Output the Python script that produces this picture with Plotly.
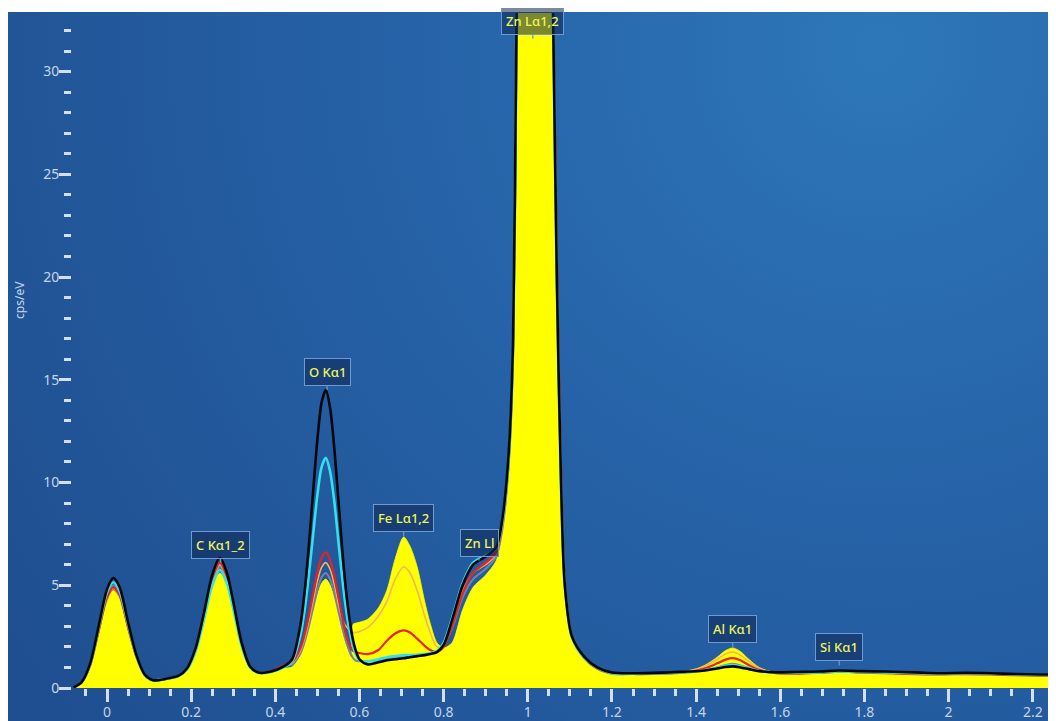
import base64
import plotly.graph_objects as go

# ---------------- data ----------------
energy_kev = [
    -0.08, -0.06, -0.04, -0.02, 0.0, 0.015, 0.03, 0.05, 0.07, 0.09, 0.11, 0.14, 0.17,
    0.19, 0.21, 0.23, 0.25, 0.268, 0.285, 0.30, 0.32, 0.34, 0.36, 0.39, 0.42,
    0.44, 0.46, 0.47, 0.48, 0.49, 0.50, 0.51, 0.52, 0.53, 0.54, 0.55, 0.56, 0.57, 0.58,
    0.585, 0.59, 0.60, 0.62, 0.645, 0.665, 0.685, 0.705, 0.72, 0.737, 0.755, 0.768, 0.784, 0.80,
    0.82, 0.845, 0.87, 0.90, 0.925, 0.94, 0.955, 0.965, 0.972, 0.98, 0.995, 1.015, 1.035, 1.05,
    1.062, 1.069, 1.079, 1.088, 1.105, 1.135, 1.165, 1.20,
    1.26, 1.32, 1.38, 1.42, 1.45, 1.47, 1.487, 1.505, 1.525, 1.55, 1.59, 1.64, 1.69, 1.74,
    1.79, 1.85, 1.92, 1.98, 2.04, 2.10, 2.16, 2.22, 2.26,
]

spec_yellow = [
    0.0, 0.22, 1.0, 2.6, 4.2, 4.75, 4.35, 2.85, 1.42, 0.58, 0.34, 0.42, 0.55,
    0.86, 1.68, 3.2, 4.85, 5.6, 4.95, 3.75, 1.98, 0.96, 0.7, 0.75, 0.95,
    1.03, 1.58, 2.12, 2.86, 3.7, 4.52, 5.1, 5.3, 5.02, 4.39, 3.54, 2.69, 1.99, 1.5,
    3.1, 3.15, 3.2, 3.35, 3.9, 4.75, 6.3, 7.35, 6.9, 5.9, 4.2, 3.15, 2.2, 1.95,
    2.2, 3.8, 4.9, 5.5, 6.2, 7.7, 10.8, 16, 28.5, 44, 64, 74, 67, 47,
    29, 19.2, 9.5, 4.7, 2.3, 1.35, 0.88, 0.65,
    0.64, 0.68, 0.8, 1.1, 1.5, 1.82, 1.95, 1.78, 1.4, 1.0, 0.72, 0.68, 0.7, 0.76,
    0.72, 0.7, 0.66, 0.64, 0.66, 0.64, 0.6, 0.58, 0.57,
]

spec_grey = [
    0.02, 0.28, 1.12, 2.8, 4.5, 5.0, 4.6, 3.0, 1.52, 0.63, 0.37, 0.44, 0.58,
    0.92, 1.78, 3.35, 5.1, 5.9, 5.2, 3.95, 2.1, 1.02, 0.74, 0.79, 1.05,
    1.14, 1.71, 2.28, 3.04, 3.92, 4.77, 5.39, 5.6, 5.3, 4.64, 3.75, 2.87, 2.14, 1.63,
    1.45, 1.35, 1.3, 1.3, 1.35, 1.42, 1.48, 1.52, 1.55, 1.58, 1.62, 1.68, 1.78, 2.1,
    2.9, 4.4, 5.3, 5.8, 6.4, 7.8, 11.0, 16.2, 28.5, 44, 64, 74, 67, 47,
    29.5, 19.5, 9.8, 4.9, 2.45, 1.45, 0.95, 0.7,
    0.68, 0.7, 0.76, 0.85, 1.0, 1.12, 1.18, 1.1, 0.98, 0.84, 0.74, 0.73, 0.75, 0.79,
    0.77, 0.74, 0.7, 0.68, 0.7, 0.68, 0.64, 0.62, 0.62,
]

spec_orange = [
    0.02, 0.27, 1.08, 2.72, 4.35, 4.85, 4.45, 2.92, 1.48, 0.62, 0.37, 0.44, 0.58,
    0.92, 1.8, 3.4, 5.2, 6.0, 5.3, 4.0, 2.12, 1.03, 0.75, 0.8, 1.07,
    1.2, 1.84, 2.45, 3.3, 4.27, 5.2, 5.87, 6.1, 5.78, 5.05, 4.08, 3.3, 2.95, 2.75,
    2.7, 2.7, 2.75, 2.95, 3.5, 4.2, 5.3, 5.9, 5.6, 4.75, 3.5, 2.7, 2.0, 2.05,
    3.2, 4.7, 5.6, 6.0, 6.5, 7.9, 11.0, 16.3, 29, 44, 64, 74, 67, 47,
    29.5, 19.5, 9.8, 4.9, 2.45, 1.45, 0.96, 0.72,
    0.68, 0.72, 0.82, 1.05, 1.4, 1.65, 1.75, 1.6, 1.3, 0.95, 0.75, 0.72, 0.76, 0.8,
    0.78, 0.75, 0.7, 0.68, 0.72, 0.7, 0.66, 0.64, 0.63,
]

spec_red = [
    0.02, 0.27, 1.1, 2.75, 4.4, 4.9, 4.5, 2.95, 1.5, 0.62, 0.37, 0.44, 0.58,
    0.93, 1.82, 3.45, 5.3, 6.1, 5.4, 4.05, 2.15, 1.05, 0.76, 0.82, 1.1,
    1.26, 1.95, 2.63, 3.54, 4.6, 5.62, 6.35, 6.6, 6.25, 5.45, 4.4, 3.34, 2.46, 1.95,
    1.8, 1.75, 1.7, 1.65, 1.85, 2.3, 2.65, 2.8, 2.7, 2.4, 2.05, 1.85, 1.75, 2.0,
    3.0, 4.6, 5.6, 6.1, 6.6, 8.0, 11.2, 16.5, 29, 44, 64, 74, 67.5, 48,
    31, 21, 10.8, 5.2, 2.5, 1.45, 0.95, 0.72,
    0.68, 0.7, 0.78, 0.95, 1.2, 1.38, 1.45, 1.35, 1.12, 0.88, 0.72, 0.7, 0.74, 0.8,
    0.76, 0.72, 0.68, 0.66, 0.68, 0.66, 0.62, 0.6, 0.6,
]

spec_cyan = [
    0.02, 0.28, 1.15, 2.9, 4.65, 5.15, 4.7, 3.1, 1.55, 0.63, 0.37, 0.44, 0.58,
    0.9, 1.75, 3.3, 5.0, 5.75, 5.1, 3.85, 2.05, 1.0, 0.73, 0.78, 1.0,
    1.3, 2.6, 3.85, 5.55, 7.5, 9.4, 10.75, 11.2, 10.55, 9.1, 7.1, 5.15, 3.55, 2.4,
    2.0, 1.7, 1.35, 1.3, 1.4, 1.5, 1.55, 1.6, 1.6, 1.62, 1.65, 1.7, 1.8, 2.2,
    3.4, 5.1, 6.1, 6.45, 6.8, 8.1, 11.3, 16.5, 29, 44, 64, 74, 67, 47,
    29.5, 19.5, 9.8, 4.9, 2.45, 1.45, 0.98, 0.72,
    0.7, 0.72, 0.78, 0.86, 0.98, 1.08, 1.12, 1.06, 0.96, 0.83, 0.74, 0.74, 0.76, 0.8,
    0.78, 0.76, 0.72, 0.7, 0.72, 0.7, 0.66, 0.64, 0.63,
]

spec_black = [
    0.02, 0.3, 1.2, 3.0, 4.8, 5.35, 4.9, 3.2, 1.6, 0.65, 0.38, 0.45, 0.6,
    0.95, 1.9, 3.6, 5.5, 6.35, 5.6, 4.2, 2.2, 1.05, 0.75, 0.8, 1.05,
    1.4, 3.1, 4.75, 7.0, 9.6, 12.1, 13.9, 14.5, 13.65, 11.7, 9.1, 6.5, 4.35, 2.85,
    2.3, 1.9, 1.4, 1.15, 1.25, 1.35, 1.4, 1.45, 1.5, 1.55, 1.6, 1.65, 1.75, 2.1,
    3.3, 5.0, 6.0, 6.4, 6.85, 8.3, 11.6, 17, 30, 45, 65, 75, 68, 48,
    30, 20, 10, 5, 2.5, 1.5, 1.0, 0.75,
    0.72, 0.75, 0.8, 0.85, 0.95, 1.02, 1.05, 1.0, 0.92, 0.82, 0.76, 0.78, 0.8, 0.85,
    0.82, 0.8, 0.76, 0.72, 0.74, 0.72, 0.68, 0.66, 0.65,
]

peak_labels = ["C Kα1_2", "O Kα1", "Fe Lα1,2", "Zn Ll", "Zn Lα1,2", "Al Kα1", "Si Kα1"]
peak_kev = [0.27, 0.523, 0.705, 0.884, 1.012, 1.487, 1.740]
peak_tip = [6.1, 14.5, 7.4, 6.2, 31.6, 1.98, 1.1]

x_tickvals = [0, 0.2, 0.4, 0.6, 0.8, 1.0, 1.2, 1.4, 1.6, 1.8, 2.0, 2.2]
x_ticktext = ["0", "0.2", "0.4", "0.6", "0.8", "1", "1.2", "1.4", "1.6", "1.8", "2", "2.2"]
y_tickvals = [0, 5, 10, 15, 20, 25, 30]
y_ticktext = ["0", "5", "10", "15", "20", "25", "30"]

# ---------------- figure ----------------
FONT = "Noto Sans"
TICK_COLOR = "#d3dff0"
LABEL_COLOR = "#c6d4ea"

fig = go.Figure()

fig.add_trace(go.Scatter(
    x=energy_kev, y=spec_yellow, mode="lines", fill="tozeroy",
    fillcolor="#ffff00", line=dict(color="#ffff00", width=0.8, shape="spline", smoothing=0.8),
    hoverinfo="skip", showlegend=False))

series = [
    (spec_grey, "#7283a8", 2.0),
    (spec_orange, "#f2b45c", 1.6),
    (spec_red, "#e8231c", 2.2),
    (spec_cyan, "#2ee3ee", 2.6),
    (spec_black, "#05070d", 2.6),
]
for ys, col, w in series:
    fig.add_trace(go.Scatter(
        x=energy_kev, y=ys, mode="lines",
        line=dict(color=col, width=w, shape="spline", smoothing=0.8),
        hoverinfo="skip", showlegend=False))

for txt, xk, yt in zip(peak_labels, peak_kev, peak_tip):
    fig.add_annotation(
        x=xk, y=yt, xref="x", yref="y", text=txt,
        showarrow=True, arrowhead=0, arrowwidth=1.2, arrowcolor="#6d9ad0",
        ax=0, ay=-18, standoff=0,
        font=dict(family=FONT, size=13, color="#eef45c", weight=500),
        bgcolor="rgba(14,38,82,0.55)", bordercolor="#6d9ad0", borderwidth=1, borderpad=4)

fig.add_annotation(
    x=-0.0528, y=0.575, xref="paper", yref="paper", text="cps/eV", textangle=-90,
    xanchor="center", yanchor="middle",
    showarrow=False, font=dict(family=FONT, size=12, color=LABEL_COLOR))

# The page draws the figure 8 px in from the top-left corner (body margin),
# so the layout below is expressed in figure pixels.
L, R, T, B = 64, 8, 5, 41
PW, PH = 1056 - L - R, 721 - T - B

# background radial gradient (blue) as an inline SVG image
W_BG, H_BG = 1056, 717
svg = (
    f'<svg xmlns="http://www.w3.org/2000/svg" width="{W_BG}" height="{H_BG}" '
    f'viewBox="0 0 {W_BG} {H_BG}" preserveAspectRatio="none">'
    '<defs><radialGradient id="g" gradientUnits="userSpaceOnUse" cx="872" cy="36" r="1050">'
    '<stop offset="0" stop-color="#2d77b8"/>'
    '<stop offset="0.45" stop-color="#2662a7"/>'
    '<stop offset="1" stop-color="#1f4f90"/>'
    '</radialGradient></defs>'
    f'<rect width="{W_BG}" height="{H_BG}" fill="url(#g)"/></svg>'
)
src = "data:image/svg+xml;base64," + base64.b64encode(svg.encode()).decode()

fig.add_layout_image(
    source=src, xref="paper", yref="paper",
    x=(0 - L) / PW, y=(721 - B - 4) / PH, sizex=W_BG / PW, sizey=H_BG / PH,
    xanchor="left", yanchor="top", sizing="stretch", layer="below")

fig.update_layout(
    width=1056, height=721,
    margin=dict(l=L, r=R, t=T, b=B, pad=0),
    paper_bgcolor="white", plot_bgcolor="rgba(0,0,0,0)",
    font=dict(family=FONT, color=LABEL_COLOR),
    showlegend=False,
    xaxis=dict(
        range=[-0.0832, 2.2552], showgrid=False, zeroline=False, showline=False,
        automargin=False,
        tickmode="array", tickvals=x_tickvals, ticktext=x_ticktext,
        ticks="outside", ticklen=13, tickwidth=2.5, tickcolor=TICK_COLOR,
        tickfont=dict(family=FONT, size=14, color=LABEL_COLOR),
        ticklabelstandoff=-2,
        minor=dict(tickmode="linear", tick0=0, dtick=0.05, ticks="outside",
                   ticklen=7, tickwidth=2.5, tickcolor=TICK_COLOR),
    ),
    yaxis=dict(
        range=[0, 32.85], showgrid=False, zeroline=False, showline=False,
        automargin=False,
        tickmode="array", tickvals=y_tickvals, ticktext=y_ticktext,
        ticks="outside", ticklen=12, tickwidth=2.5, tickcolor=TICK_COLOR,
        tickfont=dict(family=FONT, size=14, color=LABEL_COLOR),
        ticklabelstandoff=-3,
        minor=dict(tickmode="linear", tick0=0, dtick=1, ticks="outside",
                   ticklen=7, tickwidth=2.5, tickcolor=TICK_COLOR),
    ),
)

fig.write_html("out.html")
